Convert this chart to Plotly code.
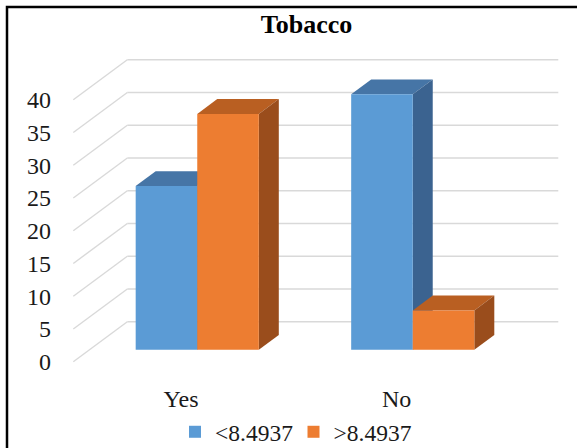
import plotly.graph_objects as go

# ---- data -------------------------------------------------------------
categories = ["Yes", "No"]
series_names = ["<8.4937", ">8.4937"]
below_values = [25, 39]   # "<8.4937"
above_values = [36, 6]    # ">8.4937"
y_ticks = [0, 5, 10, 15, 20, 25, 30, 35, 40]
title_text = "Tobacco"

series_values = [below_values, above_values]

# ---- styling ----------------------------------------------------------
FRONT = ["#5B9BD5", "#ED7D31"]
TOP = ["#4675A6", "#B95F22"]
SIDE = ["#3B6390", "#9A4D1C"]
GRID = "#D9D9D9"
TEXT = "#1a1a1a"
FONT = "'Liberation Serif', 'Times New Roman', serif"

W, H = 577, 448
L, R, T, B = 52, 572, 44, 386          # plot area in pixels
X0, SX = 181.05, 215.5                  # front-plane x: px = X0 + SX * x
Y0, SY = 361.7, 6.55                    # front-plane y: py = Y0 - SY * v
DEPTH_X = 54 / SX                       # full floor depth, in x units
DEPTH_V = 40 / SY                       # full floor depth, in value units
BAR_W = 0.2857                          # bar width (gap width 75%)
D_FRONT, D_BACK = 0.30, 0.67            # bar front/back depth


def project(x, v, d):
    """Oblique projection of a point at depth d onto the front plane."""
    return x + d * DEPTH_X, v + d * DEPTH_V


def poly_path(points):
    return "M " + " L ".join(f"{x:.5f},{v:.5f}" for x, v in points) + " Z"


shapes = []

# back wall gridlines and side wall lines
x_lo, x_hi = -0.5, len(categories) - 0.5
for t in y_ticks:
    bx0, bv0 = project(x_lo, t, 1.0)
    bx1, bv1 = project(x_hi, t, 1.0)
    shapes.append(dict(type="line", xref="x", yref="y", x0=bx0, y0=bv0, x1=bx1, y1=bv1,
                       line=dict(color=GRID, width=1.6), layer="below"))
    fx, fv = project(x_lo, t, 0.0)
    shapes.append(dict(type="line", xref="x", yref="y", x0=fx, y0=fv, x1=bx0, y1=bv0,
                       line=dict(color=GRID, width=1.4), layer="below"))

fig = go.Figure()

# bar front faces
for s, (name, vals) in enumerate(zip(series_names, series_values)):
    centers, bases = [], []
    for i, val in enumerate(vals):
        xl = i - BAR_W + s * BAR_W
        xc = xl + BAR_W / 2
        cx, cb = project(xc, 0, D_FRONT)
        centers.append(cx)
        bases.append(cb)
    fig.add_trace(go.Bar(
        x=centers, y=vals, base=bases, width=BAR_W, name=name,
        marker=dict(color=FRONT[s], line=dict(width=0)),
        hoverinfo="skip",
    ))

# top and side faces, left to right so nearer faces cover hidden ones
for i in range(len(categories)):
    for s, vals in enumerate(series_values):
        val = vals[i]
        xl = i - BAR_W + s * BAR_W
        xr = xl + BAR_W
        top = [project(xl, val, D_FRONT), project(xr, val, D_FRONT),
               project(xr, val, D_BACK), project(xl, val, D_BACK)]
        side = [project(xr, 0, D_FRONT), project(xr, val, D_FRONT),
                project(xr, val, D_BACK), project(xr, 0, D_BACK)]
        shapes.append(dict(type="path", xref="x", yref="y", path=poly_path(top),
                           fillcolor=TOP[s], line=dict(width=0), layer="below"))
        shapes.append(dict(type="path", xref="x", yref="y", path=poly_path(side),
                           fillcolor=SIDE[s], line=dict(width=0), layer="below"))


# chart frame (left and top edges)
def px_to_paper(px, py):
    return (px - L) / (R - L), (B - py) / (B - T)


fx0, fy0 = px_to_paper(7, H + 5)
fx1, fy1 = px_to_paper(7, 7)
fx2, fy2 = px_to_paper(W + 5, 7)
shapes.append(dict(type="path", xref="paper", yref="paper",
                   path=f"M {fx0},{fy0} L {fx1},{fy1} L {fx2},{fy2}",
                   line=dict(color="#000000", width=2.5), layer="above"))

fig.update_layout(
    width=W, height=H,
    margin=dict(l=L, r=W - R, t=T, b=H - B, pad=0, autoexpand=False),
    paper_bgcolor="white", plot_bgcolor="white",
    barmode="overlay",
    shapes=shapes,
    title=dict(text=f"<b>{title_text}</b>", x=306.5 / W, xanchor="center",
               y=1 - 24 / H, yanchor="middle", yref="container",
               font=dict(family=FONT, size=26, color="#000000")),
    xaxis=dict(range=[(L - X0) / SX, (R - X0) / SX], tickvals=list(range(len(categories))),
               ticktext=categories, showgrid=False, zeroline=False, showline=False,
               ticks="", ticklabelstandoff=-4,
               tickfont=dict(family=FONT, size=24, color=TEXT), fixedrange=True),
    yaxis=dict(range=[(Y0 - B) / SY, (Y0 - T) / SY], tickvals=y_ticks,
               showgrid=False, zeroline=False, showline=False, ticks="",
               tickfont=dict(family=FONT, size=24, color=TEXT), fixedrange=True),
    legend=dict(orientation="h", xref="container", yref="container",
                x=175 / W, y=1 - 432 / H, xanchor="left", yanchor="middle",
                font=dict(family=FONT, size=23.5, color=TEXT),
                entrywidth=73.5, entrywidthmode="pixels",
                bgcolor="rgba(0,0,0,0)", borderwidth=0),
    showlegend=True,
)

fig.write_html("out.html")
